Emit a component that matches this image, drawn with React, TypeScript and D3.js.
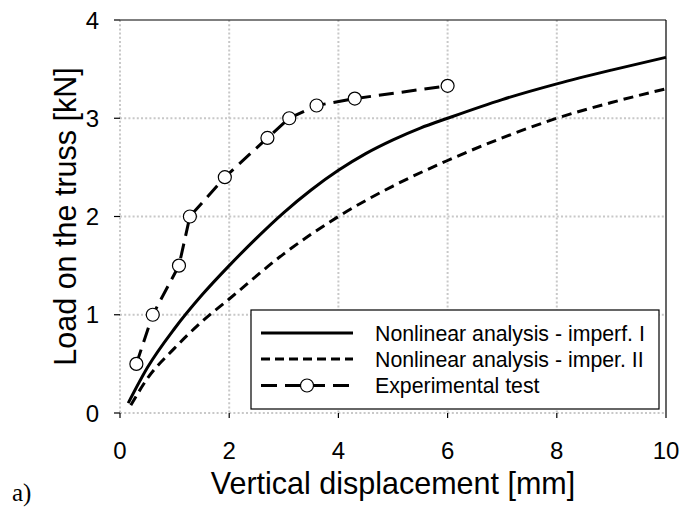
import * as d3 from "d3";
import { useEffect, useRef } from "react";

// Nonlinear analysis - imperf. I
const imperfIX = [0.15, 0.5, 1.0, 1.5, 2.0, 2.5, 3.0, 3.5, 4.0, 4.5, 5.0, 5.5, 6.0, 7.0, 8.0, 9.0, 10.0];
const imperfIY = [0.1, 0.46, 0.86, 1.2, 1.5, 1.78, 2.04, 2.27, 2.47, 2.64, 2.78, 2.9, 3.0, 3.19, 3.35, 3.49, 3.62];

// Nonlinear analysis - imper. II
const imperIIX = [0.2, 0.5, 1.0, 1.5, 2.0, 3.0, 4.0, 5.0, 6.0, 7.0, 8.0, 9.0, 10.0];
const imperIIY = [0.08, 0.35, 0.66, 0.93, 1.16, 1.62, 2.0, 2.31, 2.57, 2.8, 3.0, 3.16, 3.3];

// Experimental test
const expX = [0.3, 0.6, 1.08, 1.28, 1.92, 2.7, 3.1, 3.6, 4.3, 6.0];
const expY = [0.5, 1.0, 1.5, 2.0, 2.4, 2.8, 3.0, 3.13, 3.2, 3.33];

const xTicks = [0, 2, 4, 6, 8, 10];
const yTicks = [0, 1, 2, 3, 4];
const legendLabels = [
  "Nonlinear analysis - imperf. I",
  "Nonlinear analysis - imper. II",
  "Experimental test",
];

export default function App() {
  const svgRef = useRef<SVGSVGElement | null>(null);

  useEffect(() => {
    if (!svgRef.current) return;
    const svg = d3.select(svgRef.current);
    svg.selectAll("*").remove();

    const sans = "'Liberation Sans', Arial, sans-serif";
    const left = 120, right = 666, top = 20, bottom = 413;

    const x = d3.scaleLinear().domain([0, 10]).range([left, right]);
    const y = d3.scaleLinear().domain([0, 4]).range([bottom, top]);

    // === grid ===
    const grid = svg.append("g").attr("stroke", "#c8c8c8").attr("stroke-width", 2)
      .attr("stroke-dasharray", "2,2.2");
    grid.selectAll("line.v").data(xTicks.filter((t) => t < 10)).enter().append("line")
      .attr("x1", (d) => x(d)).attr("x2", (d) => x(d)).attr("y1", top).attr("y2", bottom);
    grid.selectAll("line.h").data(yTicks.filter((t) => t < 4)).enter().append("line")
      .attr("x1", left).attr("x2", right).attr("y1", (d) => y(d)).attr("y2", (d) => y(d));

    // === frame: top + right solid ===
    svg.append("line").attr("x1", left).attr("x2", right).attr("y1", top).attr("y2", top)
      .attr("stroke", "#000").attr("stroke-width", 1.2);
    svg.append("line").attr("x1", right).attr("x2", right).attr("y1", top).attr("y2", bottom)
      .attr("stroke", "#000").attr("stroke-width", 1.2);

    // === ticks ===
    svg.selectAll("line.xt").data(xTicks).enter().append("line")
      .attr("x1", (d) => x(d)).attr("x2", (d) => x(d)).attr("y1", bottom).attr("y2", bottom + 5)
      .attr("stroke", "#000").attr("stroke-width", 1.2);
    svg.selectAll("line.yt").data(yTicks).enter().append("line")
      .attr("x1", left - 6).attr("x2", left).attr("y1", (d) => y(d)).attr("y2", (d) => y(d))
      .attr("stroke", "#000").attr("stroke-width", 1.2);

    svg.selectAll("text.xl").data(xTicks).enter().append("text")
      .attr("x", (d) => x(d)).attr("y", 459).attr("text-anchor", "middle")
      .attr("font-family", sans).attr("font-size", 24).text((d) => d);
    svg.selectAll("text.yl").data(yTicks).enter().append("text")
      .attr("x", 99).attr("y", (d) => y(d)).attr("dy", "0.36em").attr("text-anchor", "end")
      .attr("font-family", sans).attr("font-size", 24).text((d) => d);

    // === axis titles ===
    svg.append("text").attr("x", (left + right) / 2).attr("y", 494).attr("text-anchor", "middle")
      .attr("font-family", sans).attr("font-size", 30.5).text("Vertical displacement [mm]");
    svg.append("text").attr("transform", `translate(76,${(top + bottom) / 2}) rotate(-90)`)
      .attr("text-anchor", "middle").attr("font-family", sans).attr("font-size", 30.5)
      .text("Load on the truss [kN]");
    svg.append("text").attr("x", 12).attr("y", 501)
      .attr("font-family", "'Liberation Serif', 'Times New Roman', serif").attr("font-size", 25)
      .text("a)");

    // === curves ===
    const curve = (xs: number[], ys: number[]) =>
      d3.line<number>().x((d) => x(d)).y((_, i) => y(ys[i])).curve(d3.curveMonotoneX)(xs);

    svg.append("path").attr("d", curve(imperIIX, imperIIY)).attr("fill", "none")
      .attr("stroke", "#000").attr("stroke-width", 3).attr("stroke-dasharray", "10,6");
    svg.append("path").attr("d", curve(imperfIX, imperfIY)).attr("fill", "none")
      .attr("stroke", "#000").attr("stroke-width", 3);

    const expLine = d3.line<number>().x((d) => x(d)).y((_, i) => y(expY[i]));
    svg.append("path").attr("d", expLine(expX)).attr("fill", "none")
      .attr("stroke", "#000").attr("stroke-width", 3).attr("stroke-dasharray", "15,8");
    svg.selectAll("circle.exp").data(expX).enter().append("circle")
      .attr("cx", (d) => x(d)).attr("cy", (_, i) => y(expY[i])).attr("r", 6.5)
      .attr("fill", "#fff").attr("stroke", "#000").attr("stroke-width", 1.2);

    // === legend ===
    const lg = svg.append("g");
    lg.append("rect").attr("x", 251).attr("y", 310).attr("width", 408).attr("height", 99)
      .attr("fill", "#fff").attr("stroke", "#000").attr("stroke-width", 1.2);
    const rowY = [333, 359, 385.5];
    const dashes = [null, "9,5", "16,8"];
    legendLabels.forEach((label, i) => {
      const ln = lg.append("line").attr("x1", 261).attr("x2", 353).attr("y1", rowY[i]).attr("y2", rowY[i])
        .attr("stroke", "#000").attr("stroke-width", 3);
      if (dashes[i]) ln.attr("stroke-dasharray", dashes[i] as string);
      if (i === 2) {
        lg.append("circle").attr("cx", 307).attr("cy", rowY[i]).attr("r", 6.5)
          .attr("fill", "#fff").attr("stroke", "#000").attr("stroke-width", 1.2);
      }
      lg.append("text").attr("x", 375).attr("y", rowY[i]).attr("dy", "0.36em")
        .attr("font-family", sans).attr("font-size", 21.3).text(label);
    });
  }, []);

  return (
    <svg
      ref={svgRef}
      width={683}
      height={510}
      style={{ position: "absolute", left: 0, top: 0, background: "#fff" }}
    />
  );
}
